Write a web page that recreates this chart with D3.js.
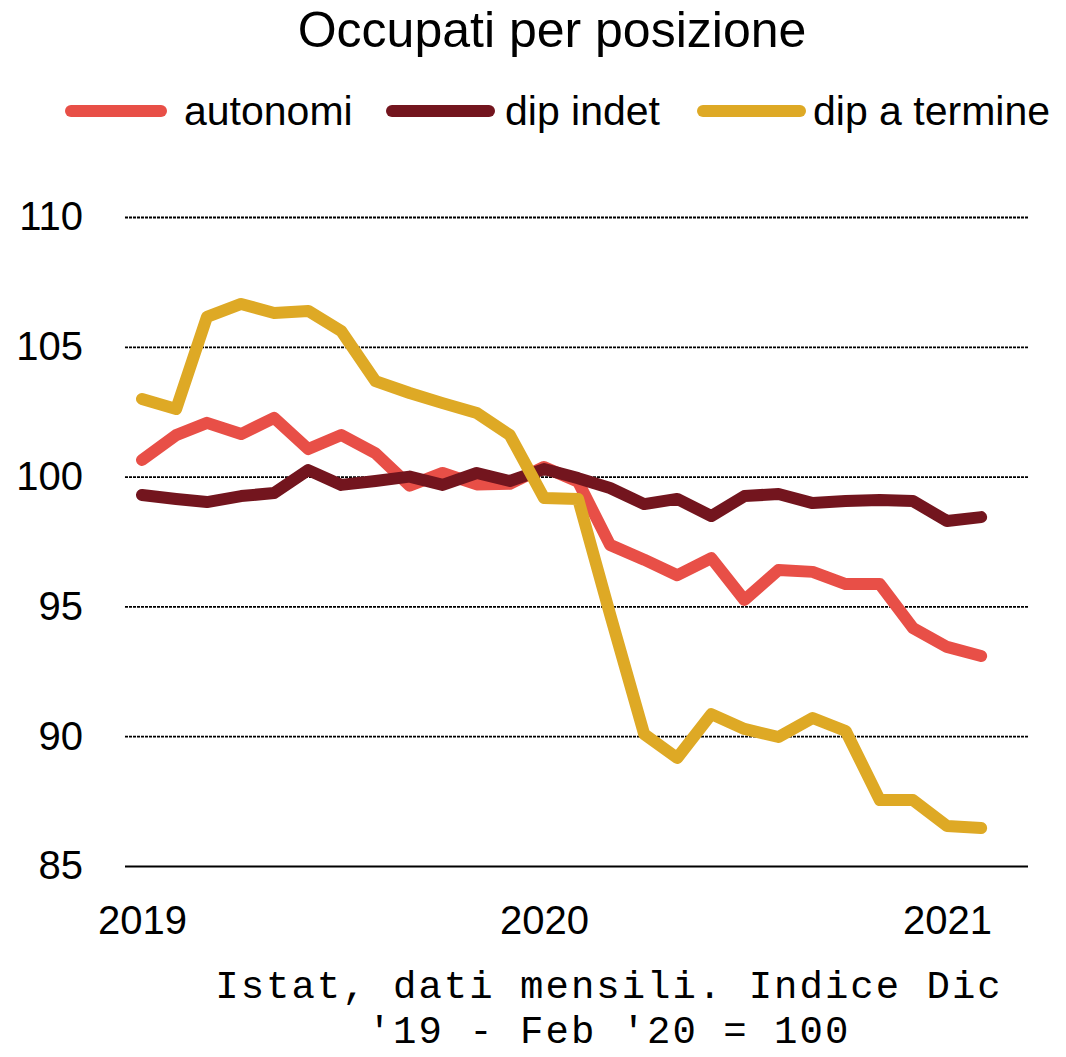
<!DOCTYPE html>
<html>
<head>
<meta charset="utf-8">
<script src="https://cdn.jsdelivr.net/npm/d3@7"></script>
<style>
  body { margin: 0; background: #fff; }
  svg { display: block; }
</style>
</head>
<body>
<div id="chart"></div>
<script>
// Data: monthly index, Jan 2019 - Feb 2021 (Dic '19 - Feb '20 = 100)
const months = ["2019-01","2019-02","2019-03","2019-04","2019-05","2019-06","2019-07","2019-08","2019-09","2019-10","2019-11","2019-12",
                "2020-01","2020-02","2020-03","2020-04","2020-05","2020-06","2020-07","2020-08","2020-09","2020-10","2020-11","2020-12",
                "2021-01","2021-02"];

const autonomi = [100.64, 101.6, 102.07, 101.64, 102.26, 101.06, 101.6, 100.9, 99.65, 100.14, 99.7, 99.72,
                  100.37, 99.8, 97.37, 96.8, 96.2, 96.86, 95.25, 96.4, 96.33, 95.86, 95.86, 94.17,
                  93.44, 93.09];
const dipIndet = [99.29, 99.14, 99.02, 99.25, 99.37, 100.25, 99.68, 99.83, 100.0, 99.68, 100.14, 99.83,
                  100.29, 99.94, 99.56, 98.94, 99.14, 98.48, 99.25, 99.33, 98.98, 99.06, 99.1, 99.06,
                  98.29, 98.44];
const dipTermine = [102.99, 102.6, 106.15, 106.65, 106.3, 106.38, 105.6, 103.68, 103.22, 102.83, 102.45, 101.6,
                    99.18, 99.14, 94.7, 90.08, 89.16, 90.85, 90.28, 89.97, 90.7, 90.2, 87.54, 87.54,
                    86.54, 86.46];

const seriesNames = ["autonomi", "dip indet", "dip a termine"];
const yTicks = [85, 90, 95, 100, 105, 110];
const captionLines = ["Istat, dati mensili. Indice Dic", "'19 - Feb '20 = 100"];

const colors = ["#e84f47", "#73151e", "#dea925"];

const width = 1066, height = 1057;
const sans = "'Liberation Sans', Arial, sans-serif";
const mono = "'Liberation Mono', 'DejaVu Sans Mono', monospace";

const parseMonth = d3.timeParse("%Y-%m");
const dates = months.map(parseMonth);

let svg = d3.select("#chart")
    .append("svg")
    .attr("width", width)
    .attr("height", height);

// Scales
let x = d3.scaleTime()
    .domain([parseMonth("2019-01"), parseMonth("2021-01")])
    .range([142, 947]);

let y = d3.scaleLinear()
    .domain([85, 110])
    .range([866, 217]);

// Title
svg.append("text")
    .attr("x", 552)
    .attr("y", 47)
    .attr("text-anchor", "middle")
    .style("font-family", sans)
    .style("font-size", "50px")
    .text("Occupati per posizione");

// Legend
const legendX = [[71, 161, 184], [392, 489, 505], [703, 800, 813]];
let legend = svg.append("g");
seriesNames.forEach((name, i) => {
    legend.append("line")
        .attr("x1", legendX[i][0])
        .attr("x2", legendX[i][1])
        .attr("y1", 111)
        .attr("y2", 111)
        .attr("stroke", colors[i])
        .attr("stroke-width", 12)
        .attr("stroke-linecap", "round");
    legend.append("text")
        .attr("x", legendX[i][2])
        .attr("y", 125)
        .style("font-family", sans)
        .style("font-size", "41px")
        .text(name);
});

// Gridlines + y labels
let yAxis = svg.append("g")
    .attr("transform", "translate(125,0)")
    .call(d3.axisLeft(y).tickValues(yTicks).tickSize(-903).tickPadding(42));

yAxis.select(".domain").remove();
yAxis.selectAll(".tick line")
    .attr("stroke", "#000")
    .attr("stroke-width", d => d === 85 ? 2 : 1.8)
    .attr("stroke-dasharray", d => d === 85 ? null : "3,1");
yAxis.selectAll(".tick text")
    .style("font-family", sans)
    .style("font-size", "40px")
    .attr("fill", "#000");

// X axis year labels
let xAxis = svg.append("g")
    .attr("transform", "translate(0,866)")
    .call(d3.axisBottom(x).ticks(d3.timeYear.every(1)).tickFormat(d3.timeFormat("%Y")).tickSize(0).tickPadding(40));

xAxis.select(".domain").remove();
xAxis.selectAll(".tick text")
    .style("font-family", sans)
    .style("font-size", "40px")
    .attr("fill", "#000");

// Lines
let line = d3.line()
    .x((d, i) => x(dates[i]))
    .y(d => y(d));

[autonomi, dipIndet, dipTermine].forEach((values, i) => {
    svg.append("path")
        .datum(values)
        .attr("d", line)
        .attr("fill", "none")
        .attr("stroke", colors[i])
        .attr("stroke-width", 12)
        .attr("stroke-linecap", "round")
        .attr("stroke-linejoin", "round");
});

// Caption
captionLines.forEach((t, i) => {
    svg.append("text")
        .attr("x", 609)
        .attr("y", 998 + i * 45)
        .attr("text-anchor", "middle")
        .style("font-family", mono)
        .style("font-size", "39px")
        .style("letter-spacing", "2px")
        .text(t);
});
</script>
</body>
</html>
